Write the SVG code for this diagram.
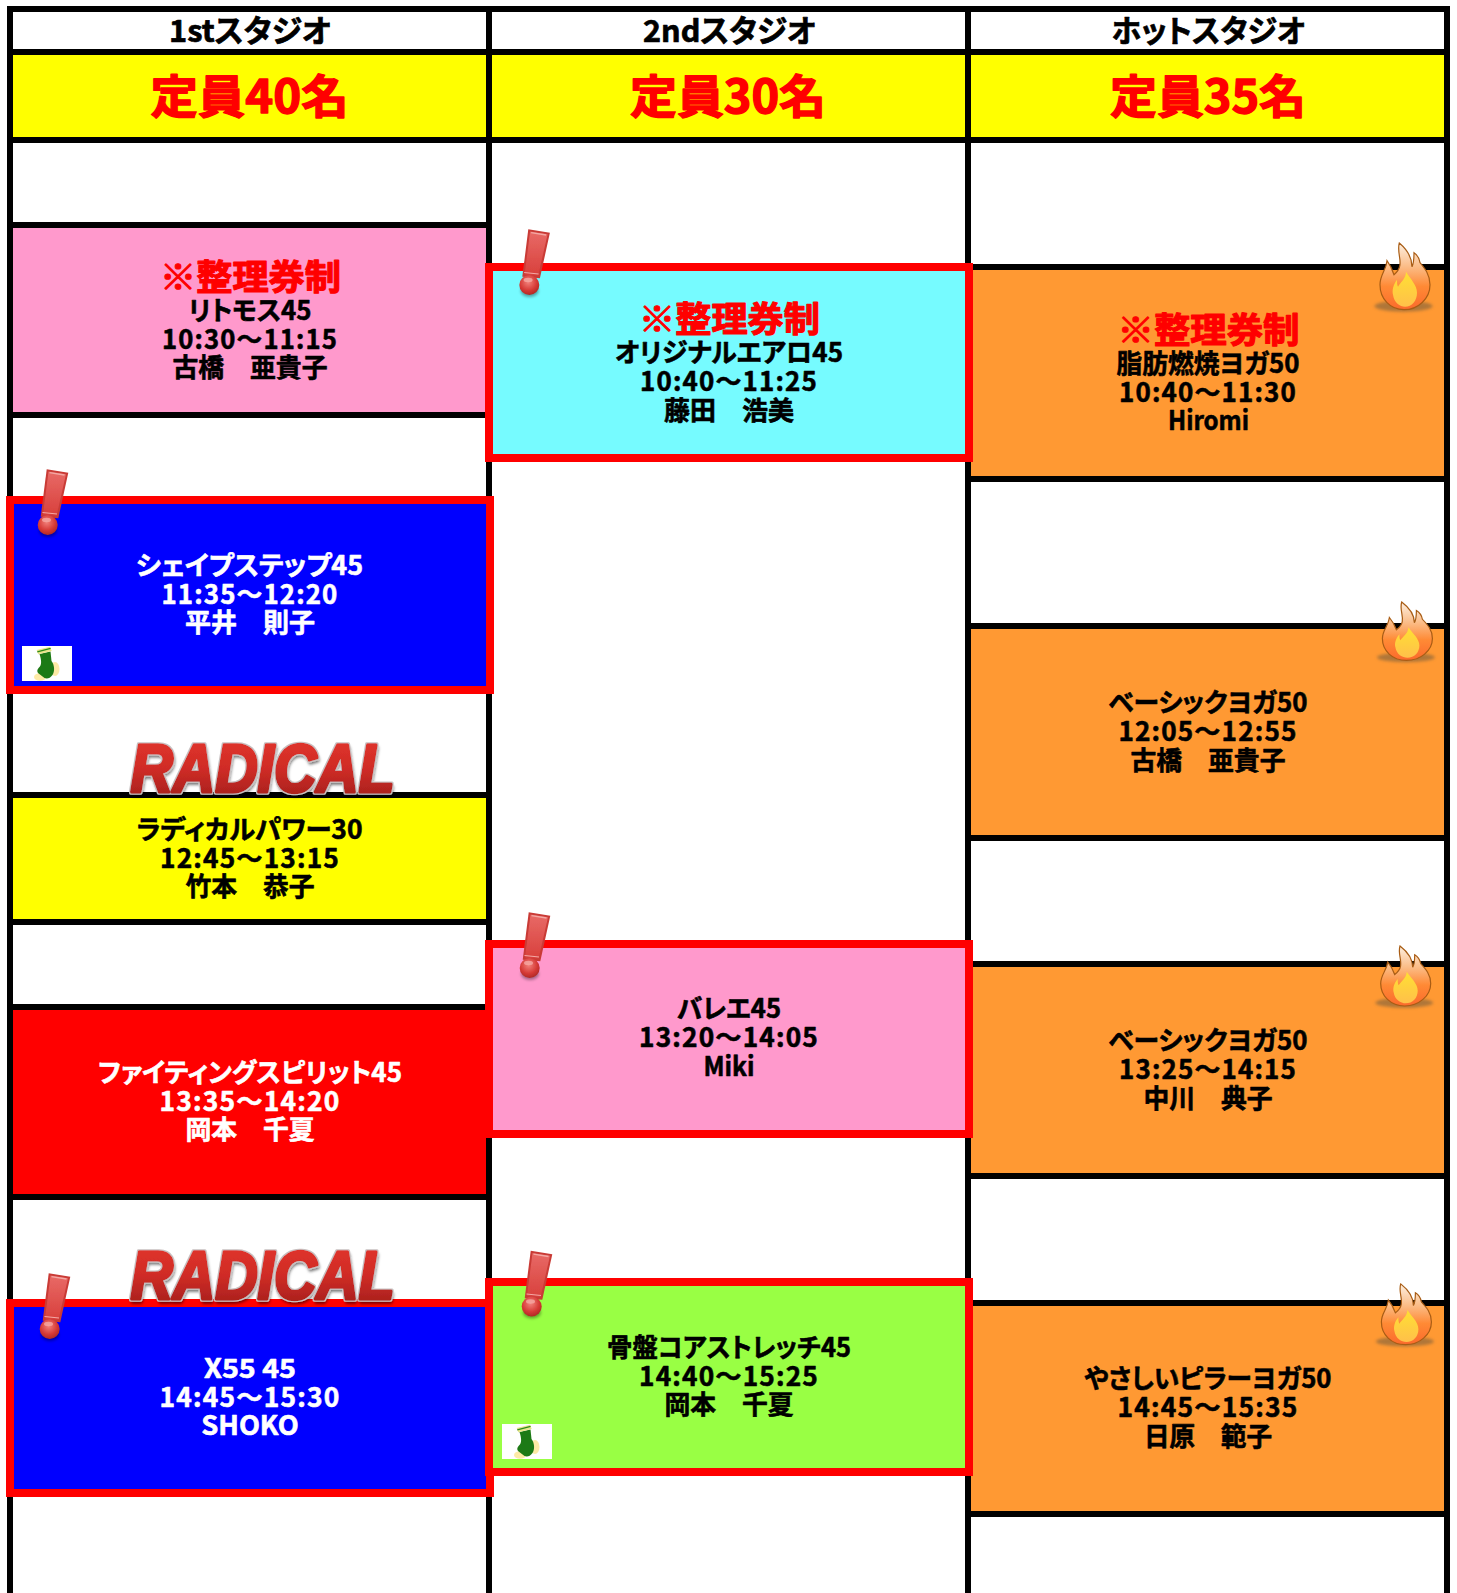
<svg xmlns="http://www.w3.org/2000/svg" width="1457" height="1593" viewBox="0 0 1457 1593">
<style>
text{font-family:"Noto Sans CJK JP","Noto Sans",sans-serif;font-weight:700;text-anchor:middle;font-feature-settings:"palt";stroke-linejoin:round}
.t{font-size:26.5px;fill:#000;stroke:#000;stroke-width:.6px}
.m{letter-spacing:1.2px}
.w{fill:#fff;stroke:#fff}
.h{font-size:31px;fill:#000;stroke:#000;stroke-width:.7px}
.cap{font-size:46px;fill:#f00;stroke:#f00;stroke-width:1.4px}
.tk{font-size:35px;fill:#f00;stroke:#f00;stroke-width:1.2px}
.cell{stroke:#000;stroke-width:6}
.hot{stroke:#f00;stroke-width:8}
.grid{stroke:#000;stroke-width:6;fill:none}
.rad{font-family:"Liberation Sans",Arial,sans-serif;font-weight:700;font-style:italic;font-size:68px;fill:url(#radG);stroke:url(#radG);stroke-width:3.6px;font-feature-settings:normal;filter:url(#radF)}
</style>
<defs>
<linearGradient id="radG" x1="0" y1="0" x2="0" y2="1"><stop offset="0" stop-color="#e5352d"/><stop offset="0.5" stop-color="#d02c26"/><stop offset="1" stop-color="#9c1d1a"/></linearGradient>
<filter id="radF" x="-5%" y="-20%" width="110%" height="150%">
<feMorphology in="SourceAlpha" operator="dilate" radius="1" result="d"/>
<feFlood flood-color="#c8c0c0"/><feComposite in2="d" operator="in" result="edge"/>
<feGaussianBlur in="SourceAlpha" stdDeviation="1.6" result="b"/><feOffset in="b" dx="1" dy="3" result="o"/>
<feFlood flood-color="#000" flood-opacity=".55"/><feComposite in2="o" operator="in" result="sh"/>
<feMerge><feMergeNode in="sh"/><feMergeNode in="edge"/><feMergeNode in="SourceGraphic"/></feMerge>
</filter>
<filter id="soft" x="-20%" y="-20%" width="140%" height="140%"><feGaussianBlur stdDeviation=".45"/></filter>
<filter id="blur2" x="-30%" y="-80%" width="160%" height="260%"><feGaussianBlur stdDeviation="1.6"/></filter>
<linearGradient id="exG" x1="0" y1="0" x2="0" y2="1"><stop offset="0" stop-color="#e86a66"/><stop offset="1" stop-color="#d8403c"/></linearGradient>
<radialGradient id="ballG" cx=".45" cy=".35" r=".7"><stop offset="0" stop-color="#f2827c"/><stop offset=".6" stop-color="#d63a36"/><stop offset="1" stop-color="#a92522"/></radialGradient>
<linearGradient id="flG" x1="0" y1="0" x2="0" y2="1"><stop offset="0" stop-color="#fdf0e2"/><stop offset=".35" stop-color="#fbbd88"/><stop offset=".65" stop-color="#ff8a35"/><stop offset="1" stop-color="#fb6a2c"/></linearGradient>
<linearGradient id="fiG" x1="0" y1="0" x2="0" y2="1"><stop offset="0" stop-color="#ffe033"/><stop offset="1" stop-color="#ffc04a"/></linearGradient>
<g id="ex" filter="url(#soft)">
<ellipse cx="11" cy="63" rx="9" ry="6" fill="#000" opacity=".35" filter="url(#blur2)"/>
<path d="M9.7,1.3 L31.3,4.7 L21.3,50.3 L3.7,48.7Z" fill="#c93a36"/>
<path d="M11.5,3.6 L29,6.2 L19.6,47.6 L6,46.4Z" fill="url(#exG)"/>
<path d="M12.5,4.6 L27.5,7" stroke="#f3a8a4" stroke-width="1.4"/>
<path d="M5.5,44.5 L20,46" stroke="#f3a8a4" stroke-width="1.2"/>
<circle cx="10.7" cy="57" r="10" fill="url(#ballG)"/>
<ellipse cx="9.5" cy="52" rx="4.5" ry="2.2" fill="#f5a9a4" opacity=".8"/>
</g>
<g id="flame">
<ellipse cx="63.5" cy="81.5" rx="29" ry="5.5" fill="#6e5a3c" opacity=".55" filter="url(#blur2)"/>
<path d="M59.3,18.3 C56,30 66,40 54,50 C52,44 50,40 47,36 C46,46 40,50 40,60 C40,74 50,85 64,85 C78,85 90,74 90,60 C90,50 85,44 80,38 C79,32 77,30 74,28 C74,34 74,38 72,42 C72,32 66,24 59.3,18.3Z" fill="url(#flG)" stroke="#a85c14" stroke-width="1.2"/>
<path d="M66,47 C66,54 60,58 58,62 C57,60 57,58 57,55 C53,60 52,66 53,70 C54,78 60,82 65,82 C72,82 77,76 77,68 C77,60 70,54 66,47Z" fill="url(#fiG)"/>
</g>
<g id="sock">
<rect width="50" height="35" fill="#fff"/>
<g filter="url(#soft)">
<ellipse cx="33" cy="23" rx="4.5" ry="7" fill="#fdeaa6"/>
<ellipse cx="18" cy="31" rx="6" ry="3.8" fill="#fdeaa6"/>
<path d="M17.5,8 L28.5,5.5 L29.5,15 C32.5,19 33,25 30.5,29 C28,32.5 25,33 22.5,32 L16,27 C14.5,25 15.5,23 17,21.5 C20,19 19.5,14 17.5,8Z" fill="#1f7a14"/>
<path d="M14.7,4 L28,0.7 L29.7,5 L16.3,8.3Z" fill="#e9e58a"/>
<path d="M15.3,5.8 L28.6,2.4" stroke="#2c8a1c" stroke-width="1.2"/>
</g>
</g>
</defs>
<rect width="1457" height="1593" fill="#fff"/>

<g id="grid">
<path class="grid" d="M10,6V1593M489,6V1593M968,6V1593M1447,6V1593"/>
</g>

<g id="head1"><rect class="cell" x="10" y="9" width="479" height="43" fill="#fff"/><text class="h" x="250" y="42" textLength="162" lengthAdjust="spacingAndGlyphs">1stスタジオ</text></g>
<g id="head2"><rect class="cell" x="489" y="9" width="479" height="43" fill="#fff"/><text class="h" x="729.5" y="42" textLength="173" lengthAdjust="spacingAndGlyphs">2ndスタジオ</text></g>
<g id="head3"><rect class="cell" x="968" y="9" width="479" height="43" fill="#fff"/><text class="h" x="1208.5" y="42" textLength="194" lengthAdjust="spacingAndGlyphs">ホットスタジオ</text></g>

<g id="cap1"><rect class="cell" x="10" y="52" width="479" height="88" fill="#ff0"/><text class="cap" x="249.5" y="113" textLength="198" lengthAdjust="spacingAndGlyphs">定員40名</text></g>
<g id="cap2"><rect class="cell" x="489" y="52" width="479" height="88" fill="#ff0"/><text class="cap" x="728" y="113" textLength="196" lengthAdjust="spacingAndGlyphs">定員30名</text></g>
<g id="cap3"><rect class="cell" x="968" y="52" width="479" height="88" fill="#ff0"/><text class="cap" x="1208" y="113" textLength="196" lengthAdjust="spacingAndGlyphs">定員35名</text></g>

<g id="c1-retomos"><rect class="cell" x="10" y="225" width="479" height="190" fill="#f9c"/>
<text class="tk" x="250.5" y="290" textLength="181" lengthAdjust="spacingAndGlyphs">※整理券制</text>
<text class="t" x="250" y="319.5" textLength="123" lengthAdjust="spacingAndGlyphs">リトモス45</text>
<text class="t m" x="250" y="348.5" textLength="176" lengthAdjust="spacingAndGlyphs">10:30～11:15</text>
<text class="t" x="250" y="377" textLength="155" lengthAdjust="spacingAndGlyphs">古橋　亜貴子</text></g>

<g id="c1-radical"><rect class="cell" x="10" y="795" width="479" height="127" fill="#ff0"/>
<text class="t" x="249.5" y="839" textLength="226" lengthAdjust="spacingAndGlyphs">ラディカルパワー30</text>
<text class="t m" x="250" y="867.5" textLength="180" lengthAdjust="spacingAndGlyphs">12:45～13:15</text>
<text class="t" x="250" y="896" textLength="129" lengthAdjust="spacingAndGlyphs">竹本　恭子</text></g>

<g id="c1-fighting"><rect class="cell" x="10" y="1007" width="479" height="190" fill="#f00"/>
<text class="t w" x="250" y="1082" textLength="304" lengthAdjust="spacingAndGlyphs">ファイティングスピリット45</text>
<text class="t w m" x="250" y="1110.5" textLength="181" lengthAdjust="spacingAndGlyphs">13:35～14:20</text>
<text class="t w" x="250" y="1139" textLength="129" lengthAdjust="spacingAndGlyphs">岡本　千夏</text></g>

<g id="c3-fat"><rect class="cell" x="968" y="267" width="479" height="212" fill="#f93"/>
<text class="tk" x="1208.5" y="343" textLength="182" lengthAdjust="spacingAndGlyphs">※整理券制</text>
<text class="t" x="1208" y="372.5" textLength="183" lengthAdjust="spacingAndGlyphs">脂肪燃焼ヨガ50</text>
<text class="t m" x="1208" y="401.5" textLength="178" lengthAdjust="spacingAndGlyphs">10:40～11:30</text>
<text class="t" x="1208.5" y="430" textLength="81" lengthAdjust="spacingAndGlyphs">Hiromi</text></g>

<g id="c3-basic1"><rect class="cell" x="968" y="626" width="479" height="212" fill="#f93"/>
<text class="t" x="1208" y="712" textLength="199" lengthAdjust="spacingAndGlyphs">ベーシックヨガ50</text>
<text class="t m" x="1208" y="741" textLength="179" lengthAdjust="spacingAndGlyphs">12:05～12:55</text>
<text class="t" x="1208" y="770" textLength="155" lengthAdjust="spacingAndGlyphs">古橋　亜貴子</text></g>

<g id="c3-basic2"><rect class="cell" x="968" y="964" width="479" height="212" fill="#f93"/>
<text class="t" x="1208" y="1050" textLength="199" lengthAdjust="spacingAndGlyphs">ベーシックヨガ50</text>
<text class="t m" x="1208" y="1079" textLength="178" lengthAdjust="spacingAndGlyphs">13:25～14:15</text>
<text class="t" x="1208" y="1108" textLength="129" lengthAdjust="spacingAndGlyphs">中川　典子</text></g>

<g id="c3-pilates"><rect class="cell" x="968" y="1303" width="479" height="211" fill="#f93"/>
<text class="t" x="1208" y="1388" textLength="247" lengthAdjust="spacingAndGlyphs">やさしいピラーヨガ50</text>
<text class="t m" x="1208" y="1417" textLength="181" lengthAdjust="spacingAndGlyphs">14:45～15:35</text>
<text class="t" x="1208" y="1445.5" textLength="128" lengthAdjust="spacingAndGlyphs">日原　範子</text></g>

<g id="c1-shape"><rect class="hot" x="10" y="500" width="480" height="190" fill="#00f"/>
<text class="t w" x="249.5" y="575" textLength="227" lengthAdjust="spacingAndGlyphs">シェイプステップ45</text>
<text class="t w m" x="250" y="603.5" textLength="177" lengthAdjust="spacingAndGlyphs">11:35～12:20</text>
<text class="t w" x="250" y="632" textLength="130" lengthAdjust="spacingAndGlyphs">平井　則子</text></g>

<g id="c1-x55"><rect class="hot" x="10" y="1303" width="480" height="190" fill="#00f"/>
<text class="t w" x="250" y="1377.5" textLength="92" lengthAdjust="spacingAndGlyphs">X55 45</text>
<text class="t w m" x="250" y="1406.5" textLength="181" lengthAdjust="spacingAndGlyphs">14:45～15:30</text>
<text class="t w" x="250" y="1435" textLength="97.5" lengthAdjust="spacingAndGlyphs">SHOKO</text></g>

<g id="c2-original"><rect class="hot" x="489" y="267" width="480" height="191" fill="#76fbff"/>
<text class="tk" x="729.5" y="332" textLength="181" lengthAdjust="spacingAndGlyphs">※整理券制</text>
<text class="t" x="729" y="362" textLength="228" lengthAdjust="spacingAndGlyphs">オリジナルエアロ45</text>
<text class="t m" x="729" y="390.5" textLength="178" lengthAdjust="spacingAndGlyphs">10:40～11:25</text>
<text class="t" x="729" y="419.5" textLength="130" lengthAdjust="spacingAndGlyphs">藤田　浩美</text></g>

<g id="c2-ballet"><rect class="hot" x="489" y="944" width="480" height="190" fill="#f9c"/>
<text class="t" x="729" y="1018" textLength="104" lengthAdjust="spacingAndGlyphs">バレエ45</text>
<text class="t m" x="729" y="1047" textLength="180" lengthAdjust="spacingAndGlyphs">13:20～14:05</text>
<text class="t" x="729" y="1076" textLength="51" lengthAdjust="spacingAndGlyphs">Miki</text></g>

<g id="c2-pelvis"><rect class="hot" x="489" y="1282" width="480" height="190" fill="#9f4"/>
<text class="t" x="729" y="1357" textLength="244" lengthAdjust="spacingAndGlyphs">骨盤コアストレッチ45</text>
<text class="t m" x="729" y="1385.5" textLength="180" lengthAdjust="spacingAndGlyphs">14:40～15:25</text>
<text class="t" x="729" y="1414" textLength="129" lengthAdjust="spacingAndGlyphs">岡本　千夏</text></g>

<g id="badges">
<use href="#ex" x="37" y="468"/>
<use href="#ex" x="518.6" y="228"/>
<use href="#ex" x="519" y="911"/>
<use href="#ex" x="39" y="1272"/>
<use href="#ex" x="521" y="1249.5"/>
<use href="#flame" transform="translate(1340,224.7)"/>
<use href="#flame" transform="translate(1342.4,586) scale(1,.875)"/>
<use href="#flame" transform="translate(1340.7,929.5) scale(1,.9)"/>
<use href="#flame" transform="translate(1341.4,1267.3) scale(1,.91)"/>
<use href="#sock" x="22" y="646"/>
<use href="#sock" x="502" y="1424"/>
</g>

<g id="radical1"><text class="rad" x="262.5" y="792" textLength="264" lengthAdjust="spacingAndGlyphs">RADICAL</text></g>
<g id="radical2"><text class="rad" x="262.5" y="1299" textLength="264" lengthAdjust="spacingAndGlyphs">RADICAL</text></g>
</svg>
